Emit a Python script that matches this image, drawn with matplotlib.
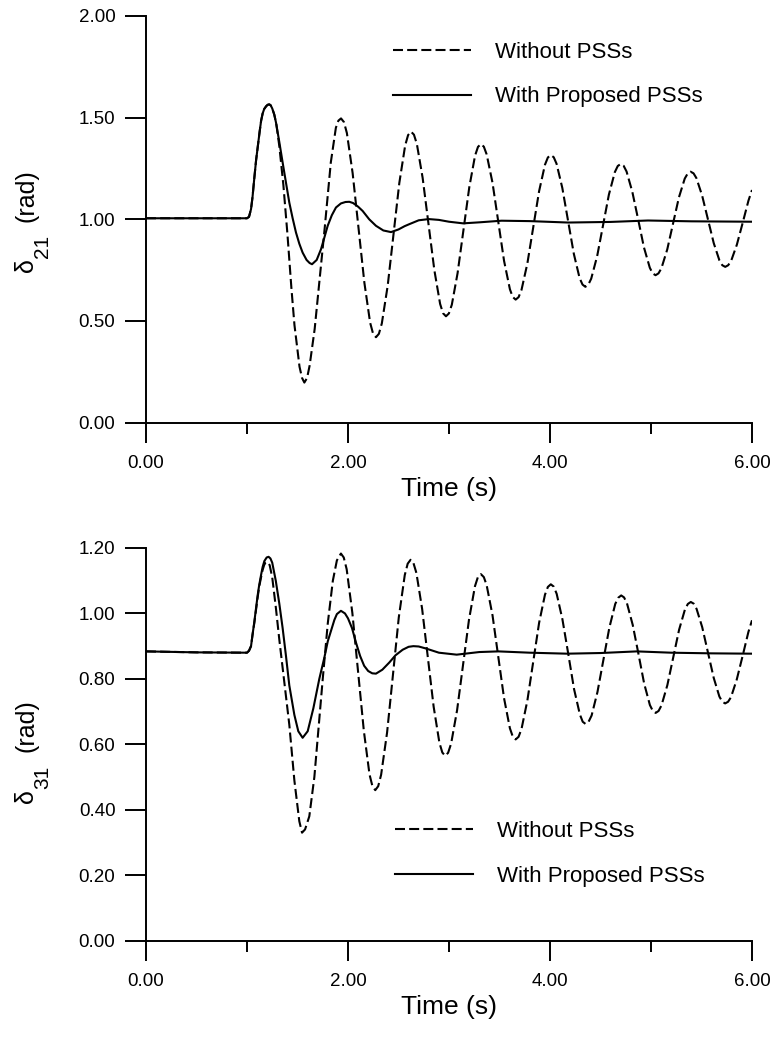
import matplotlib
matplotlib.use("Agg")
import matplotlib.pyplot as plt
from matplotlib.ticker import MultipleLocator, FormatStrFormatter

plt.rcParams["font.family"] = ["Liberation Sans", "DejaVu Sans"]

# ---- delta_21, without PSSs (dashed) ----
t21_wo = [0.0, 1.00, 1.02, 1.04, 1.055, 1.07, 1.09, 1.11, 1.125, 1.14, 1.155, 1.17, 1.19, 1.205,
          1.221, 1.235, 1.25, 1.27, 1.29, 1.32, 1.36, 1.40, 1.44, 1.47, 1.52, 1.545, 1.568, 1.595,
          1.62, 1.67, 1.71, 1.77, 1.83, 1.88, 1.905, 1.931,
          1.960, 1.989, 2.046, 2.104, 2.162, 2.219, 2.248, 2.277,
          2.306, 2.335, 2.393, 2.451, 2.508, 2.566, 2.595, 2.624,
          2.653, 2.682, 2.739, 2.797, 2.855, 2.912, 2.941, 2.970,
          2.999, 3.028, 3.085, 3.143, 3.201, 3.258, 3.287, 3.316,
          3.345, 3.373, 3.431, 3.488, 3.545, 3.603, 3.631, 3.660,
          3.689, 3.718, 3.776, 3.834, 3.892, 3.950, 3.979, 4.008,
          4.037, 4.065, 4.122, 4.179, 4.236, 4.293, 4.322, 4.350,
          4.379, 4.408, 4.467, 4.525, 4.583, 4.642, 4.671, 4.700,
          4.729, 4.758, 4.815, 4.873, 4.930, 4.988, 5.016, 5.045,
          5.074, 5.103, 5.161, 5.219, 5.276, 5.334, 5.363, 5.392,
          5.421, 5.449, 5.506, 5.564, 5.621, 5.678, 5.706, 5.735,
          5.764, 5.793, 5.850, 5.908, 5.965, 6.000]
d21_wo = [1.005, 1.005, 1.012, 1.05, 1.11, 1.19, 1.29, 1.37, 1.43, 1.485, 1.52, 1.542, 1.556, 1.563,
          1.565, 1.56, 1.545, 1.515, 1.47, 1.36, 1.17, 0.93, 0.66, 0.48, 0.275, 0.22, 0.197, 0.22,
          0.28, 0.46, 0.66, 0.96, 1.28, 1.45, 1.485, 1.496,
          1.478, 1.424, 1.227, 0.958, 0.689, 0.492, 0.438, 0.420,
          0.437, 0.488, 0.673, 0.926, 1.178, 1.363, 1.414, 1.431,
          1.416, 1.370, 1.204, 0.977, 0.750, 0.584, 0.538, 0.523,
          0.537, 0.580, 0.735, 0.947, 1.158, 1.313, 1.356, 1.370,
          1.357, 1.319, 1.179, 0.988, 0.796, 0.656, 0.618, 0.605,
          0.617, 0.653, 0.783, 0.961, 1.138, 1.268, 1.304, 1.316,
          1.305, 1.273, 1.154, 0.992, 0.830, 0.711, 0.679, 0.668,
          0.678, 0.708, 0.819, 0.970, 1.121, 1.232, 1.262, 1.272,
          1.263, 1.235, 1.135, 0.999, 0.862, 0.762, 0.734, 0.725,
          0.734, 0.759, 0.852, 0.980, 1.107, 1.200, 1.225, 1.234,
          1.226, 1.203, 1.117, 1.000, 0.883, 0.797, 0.774, 0.766,
          0.774, 0.795, 0.875, 0.983, 1.092, 1.144]

# ---- delta_21, with proposed PSSs (solid) ----
t21_w = [0.0, 1.00, 1.02, 1.04, 1.055, 1.07, 1.09, 1.11, 1.125, 1.14, 1.155, 1.17, 1.19, 1.205,
         1.221, 1.235, 1.25, 1.27, 1.287, 1.32, 1.353, 1.386, 1.419, 1.452, 1.485, 1.518, 1.551,
         1.59, 1.62, 1.644, 1.69, 1.733, 1.766, 1.799, 1.84, 1.881, 1.93, 1.975, 2.013, 2.05,
         2.10, 2.145, 2.21, 2.277, 2.35, 2.426, 2.50, 2.56, 2.607, 2.70, 2.80, 2.90, 3.00,
         3.14, 3.30, 3.52, 3.80, 4.18, 4.60, 4.97, 5.40, 6.00]
d21_w = [1.005, 1.005, 1.012, 1.05, 1.11, 1.19, 1.29, 1.37, 1.43, 1.485, 1.52, 1.542, 1.556, 1.563,
         1.565, 1.56, 1.545, 1.515, 1.476, 1.38, 1.279, 1.18, 1.082, 1.005, 0.935, 0.88, 0.836,
         0.80, 0.785, 0.779, 0.80, 0.853, 0.91, 0.968, 1.02, 1.058, 1.078, 1.085, 1.086, 1.080,
         1.062, 1.041, 1.00, 0.968, 0.945, 0.937, 0.950, 0.966, 0.976, 0.995, 1.001, 0.997, 0.988,
         0.980, 0.985, 0.993, 0.991, 0.984, 0.987, 0.994, 0.990, 0.988]

# ---- delta_31, without PSSs (dashed) ----
t31_wo = [0.0, 0.50, 1.00, 1.02, 1.04, 1.055, 1.073, 1.09, 1.106, 1.12, 1.139, 1.155, 1.17, 1.183,
          1.195, 1.21, 1.225, 1.25, 1.285, 1.32, 1.37, 1.419, 1.469, 1.518, 1.545, 1.575, 1.617,
          1.667, 1.70, 1.75, 1.80, 1.85, 1.89, 1.930,
          1.958, 1.987, 2.043, 2.100, 2.157, 2.213, 2.242, 2.270,
          2.299, 2.328, 2.387, 2.445, 2.503, 2.562, 2.591, 2.620,
          2.648, 2.677, 2.734, 2.791, 2.848, 2.905, 2.934, 2.962,
          2.991, 3.021, 3.080, 3.139, 3.198, 3.257, 3.286, 3.316,
          3.345, 3.373, 3.431, 3.488, 3.545, 3.603, 3.631, 3.660,
          3.689, 3.718, 3.776, 3.834, 3.892, 3.950, 3.979, 4.008,
          4.037, 4.066, 4.123, 4.181, 4.238, 4.296, 4.324, 4.353,
          4.382, 4.412, 4.470, 4.529, 4.588, 4.646, 4.676, 4.705,
          4.733, 4.762, 4.819, 4.876, 4.932, 4.989, 5.018, 5.046,
          5.075, 5.104, 5.162, 5.220, 5.278, 5.336, 5.365, 5.394,
          5.422, 5.451, 5.507, 5.564, 5.621, 5.677, 5.706, 5.734,
          5.763, 5.792, 5.849, 5.907, 5.964, 6.000]
d31_wo = [0.884, 0.881, 0.880, 0.886, 0.90, 0.935, 0.972, 1.013, 1.05, 1.08, 1.11, 1.133, 1.148, 1.155,
          1.157, 1.155, 1.147, 1.11, 1.02, 0.92, 0.79, 0.66, 0.49, 0.365, 0.330, 0.34, 0.38,
          0.50, 0.62, 0.80, 0.97, 1.10, 1.162, 1.183,
          1.171, 1.135, 1.002, 0.822, 0.641, 0.508, 0.472, 0.460,
          0.472, 0.507, 0.636, 0.812, 0.988, 1.117, 1.152, 1.164,
          1.154, 1.124, 1.014, 0.865, 0.715, 0.605, 0.575, 0.565,
          0.574, 0.602, 0.704, 0.843, 0.981, 1.083, 1.111, 1.120,
          1.111, 1.086, 0.994, 0.868, 0.741, 0.649, 0.624, 0.615,
          0.623, 0.647, 0.734, 0.852, 0.971, 1.057, 1.081, 1.089,
          1.082, 1.060, 0.982, 0.876, 0.769, 0.691, 0.669, 0.662,
          0.669, 0.688, 0.760, 0.859, 0.957, 1.029, 1.048, 1.055,
          1.049, 1.031, 0.965, 0.876, 0.786, 0.720, 0.702, 0.696,
          0.702, 0.719, 0.781, 0.866, 0.950, 1.012, 1.029, 1.035,
          1.030, 1.014, 0.958, 0.880, 0.803, 0.746, 0.730, 0.725,
          0.730, 0.744, 0.798, 0.870, 0.943, 0.979]

# ---- delta_31, with proposed PSSs (solid) ----
t31_w = [0.0, 0.50, 1.00, 1.02, 1.04, 1.055, 1.073, 1.09, 1.106, 1.12, 1.139, 1.155, 1.172, 1.195,
         1.214, 1.232, 1.25, 1.285, 1.32, 1.353, 1.386, 1.419, 1.469, 1.508, 1.551, 1.601, 1.657,
         1.716, 1.766, 1.80, 1.865, 1.89, 1.930, 1.97, 2.00, 2.04, 2.08, 2.12, 2.16, 2.20, 2.24,
         2.277, 2.34, 2.409, 2.47, 2.541, 2.60, 2.647, 2.70, 2.77, 2.90, 3.076, 3.30, 3.49, 3.80,
         4.17, 4.50, 4.86, 5.20, 5.60, 6.00]
d31_w = [0.884, 0.881, 0.880, 0.886, 0.90, 0.935, 0.975, 1.017, 1.056, 1.085, 1.117, 1.142, 1.16, 1.171,
         1.173, 1.168, 1.155, 1.10, 1.03, 0.955, 0.87, 0.78, 0.69, 0.64, 0.62, 0.64, 0.71,
         0.80, 0.865, 0.915, 0.98, 0.998, 1.008, 1.000, 0.985, 0.955, 0.91, 0.87, 0.84, 0.824, 0.817,
         0.816, 0.828, 0.85, 0.872, 0.889, 0.898, 0.900, 0.899, 0.893, 0.880, 0.874, 0.882, 0.884, 0.880,
         0.877, 0.879, 0.884, 0.880, 0.878, 0.877]

labels = ["Without PSSs", "With Proposed PSSs"]

fig = plt.figure(figsize=(7.72, 10.40), dpi=100)
ax1 = fig.add_axes([0.1891, 0.5936, 0.7850, 0.3911])
ax2 = fig.add_axes([0.1891, 0.0955, 0.7850, 0.3776])


def style_axis(ax, ymax, ystep):
    ax.set_xlim(0, 6)
    ax.set_ylim(0, ymax)
    for side in ["top", "right"]:
        ax.spines[side].set_visible(False)
    for side in ["left", "bottom"]:
        ax.spines[side].set_linewidth(1.4)
    ax.xaxis.set_major_locator(MultipleLocator(2))
    ax.xaxis.set_minor_locator(MultipleLocator(1))
    ax.yaxis.set_major_locator(MultipleLocator(ystep))
    ax.xaxis.set_major_formatter(FormatStrFormatter("%.2f"))
    ax.yaxis.set_major_formatter(FormatStrFormatter("%.2f"))
    ax.tick_params(axis="y", which="major", direction="out", length=15, width=1.4,
                   pad=7, labelsize=13.5)
    ax.tick_params(axis="x", which="major", direction="out", length=14.5, width=1.4,
                   pad=8.5, labelsize=13.5)
    ax.tick_params(axis="x", which="minor", direction="out", length=8, width=1.4)
    ax.set_xlabel("Time (s)", fontsize=19, labelpad=4)


ax1.plot(t21_wo, d21_wo, color="black", lw=1.5, dashes=(4.8, 2.0), label=labels[0])
ax1.plot(t21_w, d21_w, color="black", lw=1.5, label=labels[1])
style_axis(ax1, 2.0, 0.5)
ax1.legend(loc="upper left", bbox_to_anchor=(0.4076, 0.9356), frameon=False,
           fontsize=16, handlelength=3.5, handletextpad=1.1, labelspacing=1.05,
           borderpad=0, borderaxespad=0)

ax2.plot(t31_wo, d31_wo, color="black", lw=1.5, dashes=(4.8, 2.0), label=labels[0])
ax2.plot(t31_w, d31_w, color="black", lw=1.5, label=labels[1])
style_axis(ax2, 1.2, 0.2)
ax2.legend(loc="upper left", bbox_to_anchor=(0.4109, 0.3043), frameon=False,
           fontsize=16, handlelength=3.5, handletextpad=1.1, labelspacing=1.05,
           borderpad=0, borderaxespad=0)

# y labels: delta with a large subscript, then "(rad)"
W, H = 772.0, 1040.0
for (y_d, y_sub, y_rad, sub) in [(272, 258, 222, "21"), (803, 789, 752, "31")]:
    fig.text(33 / W, 1 - y_d / H, "\u03b4", fontsize=18, rotation=90,
             rotation_mode="anchor", ha="left", va="baseline")
    fig.text(48 / W, 1 - y_sub / H, sub, fontsize=15, rotation=90,
             rotation_mode="anchor", ha="left", va="baseline")
    fig.text(33 / W, 1 - y_rad / H, "(rad)", fontsize=18, rotation=90,
             rotation_mode="anchor", ha="left", va="baseline")

fig.savefig("out.png", dpi=100)
